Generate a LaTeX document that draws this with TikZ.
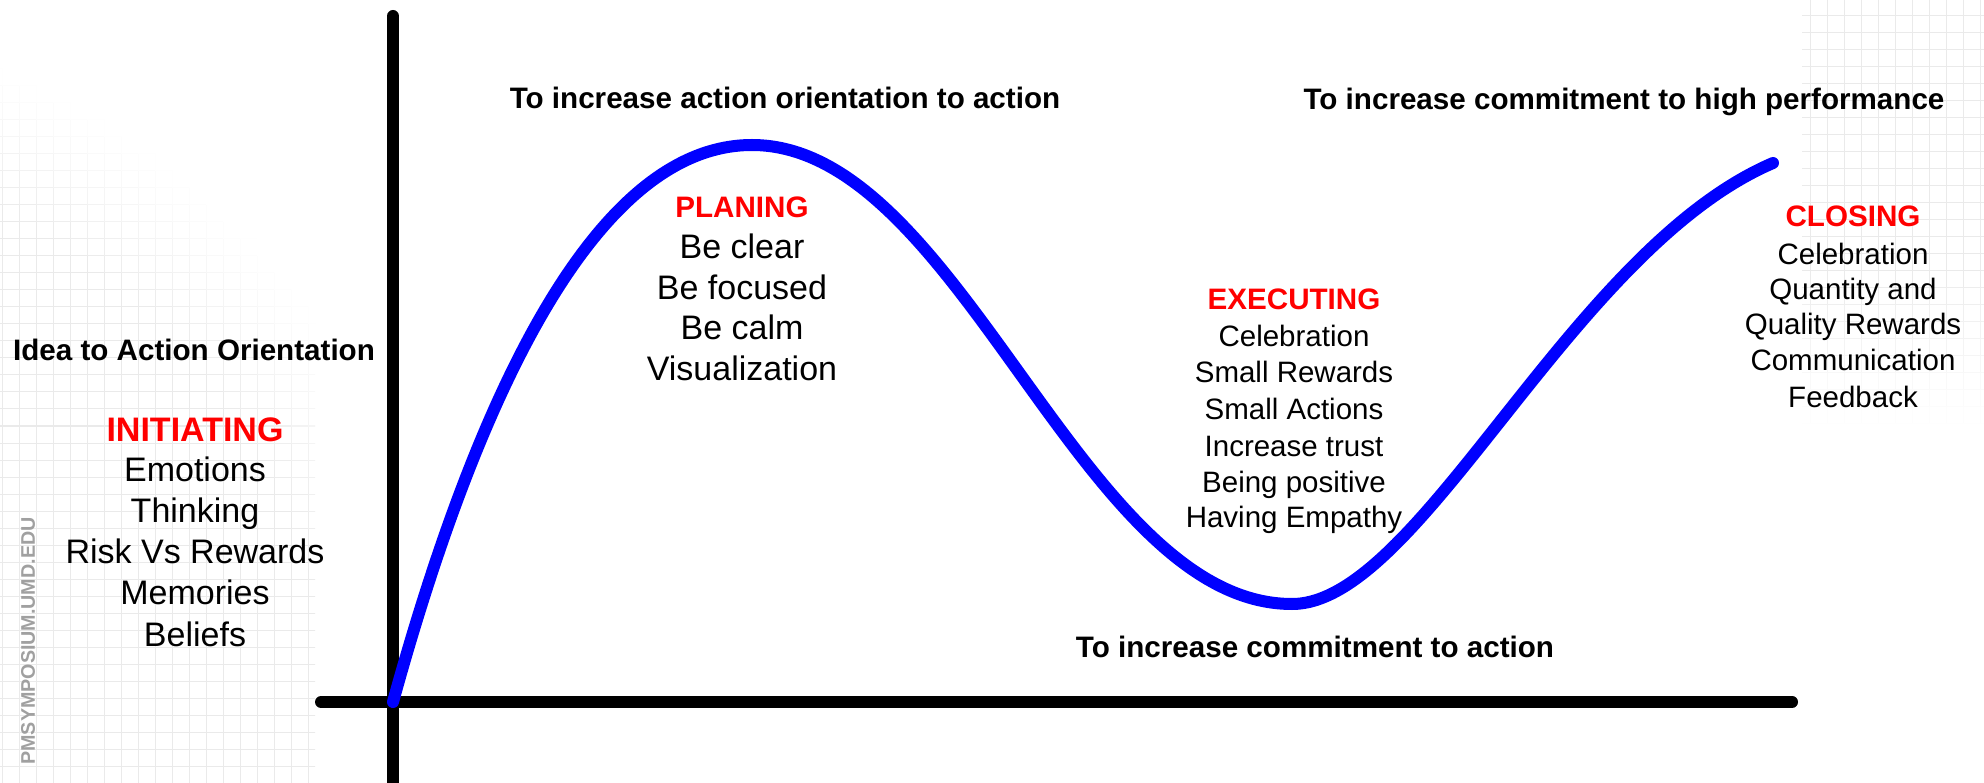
\documentclass[tikz,border=0pt]{standalone}
\usepackage{fontspec}
\setmainfont{Liberation Sans}
\definecolor{curveblue}{RGB}{0,0,255}
\definecolor{headred}{RGB}{255,0,0}
\definecolor{gridgray}{RGB}{234,234,234}
\definecolor{wmgray}{RGB}{160,160,160}
\tikzset{
  goaltext/.style={font=\fontsize{29.6}{34}\selectfont\bfseries, anchor=base, inner sep=0pt},
  bigitem/.style={font=\fontsize{34}{40}\selectfont, anchor=base, inner sep=0pt},
  smallitem/.style={font=\fontsize{29.5}{34}\selectfont, anchor=base, inner sep=0pt},
  bighead/.style={font=\fontsize{34}{40}\selectfont\bfseries, text=headred, anchor=base, inner sep=0pt},
  smallhead/.style={font=\fontsize{29.6}{34}\selectfont\bfseries, text=headred, anchor=base, inner sep=0pt},
  axisline/.style={line width=12pt, line cap=round, black},
  wave/.style={line width=12pt, curveblue, line cap=round},
  gridseg/.style={line width=1pt},
  watermark/.style={font=\fontsize{19.7}{22}\selectfont\bfseries, text=wmgray, rotate=90, inner sep=0pt},
}
\begin{document}
\begin{tikzpicture}[x=1pt,y=-1pt]
\useasboundingbox (0,0) rectangle (1984,783);
\fill[white] (0,0) rectangle (1984,783);
% left grid, fading towards the upper right
\begin{scope}
\clip (0,0) rectangle (315,783);
\foreach \gx in {2,19,...,308}{
  \foreach \gy in {1,18,...,783}{
    \pgfmathsetmacro\gdist{100*veclen((\gx+300)/100,(783-\gy-8)/100)}
    \pgfmathtruncatemacro\gval{max(0,min(100,(775-\gdist)/1.3))}
    \ifnum\gval>0 \draw[gridseg, gridgray!\gval!white] (\gx,\gy) -- (\gx,\gy+17); \fi
  }
}
\foreach \gy in {1,18,...,783}{
  \foreach \gx in {-15,2,...,308}{
    \pgfmathsetmacro\gdist{100*veclen((\gx+8+300)/100,(783-\gy)/100)}
    \pgfmathtruncatemacro\gval{max(0,min(100,(775-\gdist)/1.3))}
    \ifnum\gval>0 \draw[gridseg, gridgray!\gval!white] (\gx,\gy) -- (\gx+17,\gy); \fi
  }
}
\end{scope}
% right grid, fading downwards
\begin{scope}
\clip (1802,0) rectangle (1984,783);
\foreach \gx in {1810,1827,...,1984}{
  \foreach \gy in {-1,16,...,440}{
    \pgfmathtruncatemacro\gval{max(0,min(100,(430-\gy-8)/1.6))}
    \ifnum\gval>0 \draw[gridseg, gridgray!\gval!white] (\gx,\gy) -- (\gx,\gy+17); \fi
  }
}
\foreach \gy in {16,33,...,440}{
  \foreach \gx in {1793,1810,...,1984}{
    \pgfmathtruncatemacro\gval{max(0,min(100,(430-\gy)/1.6))}
    \ifnum\gval>0 \draw[gridseg, gridgray!\gval!white] (\gx,\gy) -- (\gx+17,\gy); \fi
  }
}
\end{scope}
% axes
\coordinate (origin) at (393,702);
\coordinate (ytop) at (393,16);
\coordinate (ybot) at (393,800);
\coordinate (xleft) at (321,702);
\coordinate (xright) at (1792,702);
\draw[axisline] (ytop) -- (ybot);
\draw[axisline] (xleft) -- (xright);
% curve
\coordinate (peak) at (752,145);
\coordinate (trough) at (1292,604);
\coordinate (wend) at (1773,163);
\draw[wave] (origin) .. controls (468,430) and (585,145) .. (peak)
  .. controls (960,145) and (1080,604) .. (trough)
  .. controls (1420,604) and (1570,250) .. (wend);
% goal labels
\node[goaltext] (goal1) at (785,109) {To increase action orientation to action};
\node[goaltext] (goal2) at (1624,110) {To increase commitment to high performance};
\node[goaltext] (goal3) at (1315,657) {To increase commitment to action};
\node[goaltext] (idea) at (194,361) {Idea to Action Orientation};
% initiating
\node[bighead] (inihead) at (195,441) {INITIATING};
\foreach \t/\yy [count=\i] in {Emotions/481,Thinking/522,Risk Vs Rewards/563,Memories/604,Beliefs/646}
  \node[bigitem] (ini\i) at (195,\yy) {\t};
% planing
\node[smallhead] (planhead) at (742,218) {PLANING};
\foreach \t/\yy [count=\i] in {Be clear/259,Be focused/300,Be calm/340,Visualization/381}
  \node[bigitem] (plan\i) at (742,\yy) {\t};
% executing
\node[smallhead] (exehead) at (1294,310) {EXECUTING};
\foreach \t/\yy [count=\i] in {Celebration/347,Small Rewards/383,Small Actions/420,Increase trust/456,Being positive/492,Having Empathy/527}
  \node[smallitem] (exe\i) at (1294,\yy) {\t};
% closing
\node[smallhead] (closehead) at (1853,227) {CLOSING};
\foreach \t/\yy [count=\i] in {Celebration/265,Quantity and/300,Quality Rewards/335,Communication/371,Feedback/408}
  \node[smallitem] (close\i) at (1853,\yy) {\t};
% watermark
\node[watermark] (wm) at (28,641) {PMSYMPOSIUM.UMD.EDU};
\end{tikzpicture}
\end{document}
